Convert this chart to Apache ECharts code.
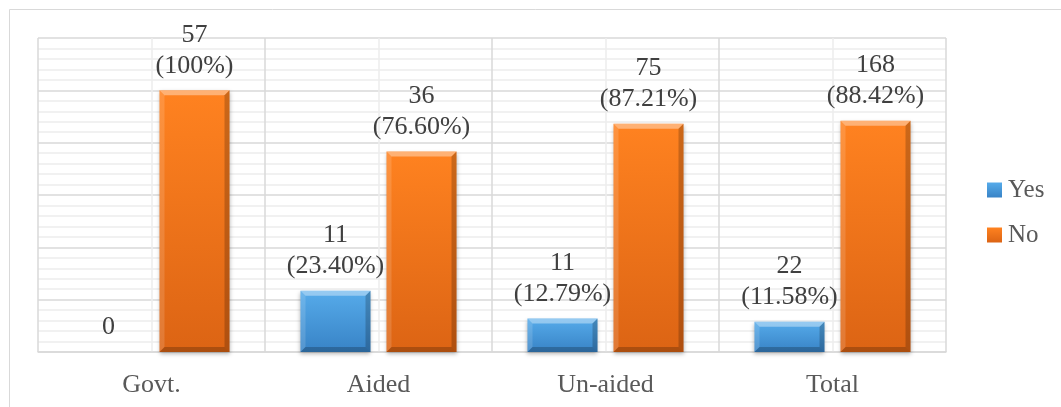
<!DOCTYPE html>
<html>
<head>
<meta charset="utf-8">
<script src="https://cdn.jsdelivr.net/npm/echarts@6/dist/echarts.min.js"></script>
<style>
  html, body { margin: 0; padding: 0; background: #ffffff; }
  #chart { width: 1061px; height: 407px; }
</style>
</head>
<body>
<div id="chart"></div>
<script>
// School categories and the Yes / No responses (counts and shares in %)
const categories = ['Govt.', 'Aided', 'Un-aided', 'Total'];
const yesCounts = [0, 11, 11, 22];
const yesPercent = [0, 23.40, 12.79, 11.58];
const noCounts = [57, 36, 75, 168];
const noPercent = [100, 76.60, 87.21, 88.42];

// Value-axis range and gridline steps
const valueMax = 120;
const majorStep = 20;
const minorStep = 4;

const SERIF = '"Liberation Serif", "Times New Roman", "DejaVu Serif", serif';
const BAR_WIDTH = 70;
const BAR_GAP_PX = 16;

const chart = echarts.init(document.getElementById('chart'), null, { renderer: 'canvas' });

function pctText(v) {
  return v === 100 ? '100' : v.toFixed(2);
}

function labelFor(counts, pcts) {
  return function (p) {
    const i = p.dataIndex;
    if (counts[i] === 0) return String(counts[i]);
    return counts[i] + '\n(' + pctText(pcts[i]) + '%)';
  };
}

function vGrad(top, bottom) {
  return new echarts.graphic.LinearGradient(0, 0, 0, 1, [
    { offset: 0, color: top },
    { offset: 1, color: bottom }
  ]);
}

// Bevel edges drawn on top of each bar, positioned from the category scale
function bevelSeries(name, values, side) {
  return {
    name: name,
    type: 'custom',
    silent: true,
    z: 5,
    xAxisIndex: 0,
    yAxisIndex: 0,
    data: values.map((v, i) => [i, v]),
    renderItem: function (params, api) {
      const idx = api.value(0);
      const val = api.value(1);
      const top = api.coord([idx, val]);
      const base = api.coord([idx, 0]);
      const h = base[1] - top[1];
      if (h <= 0.5) return null;
      const cx = top[0] + side * (BAR_WIDTH + BAR_GAP_PX) / 2;
      const x0 = cx - BAR_WIDTH / 2, x1 = cx + BAR_WIDTH / 2;
      const y0 = top[1], y1 = base[1];
      const b = Math.min(5, h / 2);
      return {
        type: 'group',
        children: [
          { type: 'polygon', shape: { points: [[x0, y0], [x1, y0], [x1 - b, y0 + b], [x0 + b, y0 + b]] },
            style: { fill: 'rgba(255,255,255,0.38)' } },
          { type: 'polygon', shape: { points: [[x0, y0], [x0 + b, y0 + b], [x0 + b, y1 - b], [x0, y1]] },
            style: { fill: 'rgba(255,255,255,0.14)' } },
          { type: 'polygon', shape: { points: [[x1, y0], [x1, y1], [x1 - b, y1 - b], [x1 - b, y0 + b]] },
            style: { fill: 'rgba(0,0,0,0.20)' } },
          { type: 'polygon', shape: { points: [[x0, y1], [x0 + b, y1 - b], [x1 - b, y1 - b], [x1, y1]] },
            style: { fill: 'rgba(0,0,0,0.22)' } }
        ]
      };
    }
  };
}

const barLabel = {
  show: true,
  position: 'top',
  distance: 9,
  fontFamily: SERIF,
  fontSize: 26,
  lineHeight: 31,
  color: '#404040'
};

const minorColor = '#ececec';
const majorColor = '#d9d9d9';
const yLineColors = [majorColor];
for (let k = 1; k < majorStep / minorStep; k++) yLineColors.push(minorColor);

const option = {
  backgroundColor: '#ffffff',
  animation: false,
  graphic: [{
    type: 'rect',
    silent: true,
    z: -10,
    shape: { x: 9.5, y: 9.5, width: 1100, height: 500 },
    style: { fill: 'none', stroke: '#d9d9d9', lineWidth: 1 }
  }],
  grid: { left: 38, right: 115, top: 38, bottom: 55, containLabel: false },
  legend: {
    orient: 'vertical',
    left: 987,
    top: 177.5,
    padding: 0,
    itemWidth: 15,
    itemHeight: 15,
    itemGap: 20,
    icon: 'rect',
    data: ['Yes', 'No'],
    textStyle: { fontFamily: SERIF, fontSize: 25, lineHeight: 25, color: '#595959', padding: [0, 0, 0, 1] }
  },
  xAxis: [{
    type: 'category',
    data: categories,
    axisTick: { show: false },
    axisLine: { show: true, lineStyle: { color: majorColor, width: 1.5 } },
    axisLabel: { fontFamily: SERIF, fontSize: 26, color: '#595959', margin: 20 },
    splitLine: { show: false }
  }, {
    type: 'value',
    position: 'top',
    min: 0,
    max: categories.length * 2,
    interval: 1,
    axisLine: { show: false },
    axisTick: { show: false },
    axisLabel: { show: false },
    splitLine: { show: true, lineStyle: { color: [majorColor, minorColor], width: 1.5 } }
  }],
  yAxis: {
    type: 'value',
    min: 0,
    max: valueMax,
    interval: minorStep,
    axisLine: { show: false },
    axisTick: { show: false },
    axisLabel: { show: false },
    splitLine: { show: true, lineStyle: { color: yLineColors, width: 1.5 } }
  },
  series: [
    {
      name: 'Yes',
      type: 'bar',
      xAxisIndex: 0,
      barWidth: BAR_WIDTH,
      barGap: (BAR_GAP_PX / BAR_WIDTH * 100).toFixed(1) + '%',
      data: yesPercent,
      itemStyle: {
        color: vGrad('#56abea', '#3883c6'),
        shadowColor: 'rgba(0,0,0,0.28)',
        shadowBlur: 4,
        shadowOffsetY: 2
      },
      label: Object.assign({ formatter: labelFor(yesCounts, yesPercent) }, barLabel)
    },
    {
      name: 'No',
      type: 'bar',
      xAxisIndex: 0,
      barWidth: BAR_WIDTH,
      data: noPercent,
      itemStyle: {
        color: vGrad('#ff8220', '#dc6414'),
        shadowColor: 'rgba(0,0,0,0.28)',
        shadowBlur: 4,
        shadowOffsetY: 2
      },
      label: Object.assign({ formatter: labelFor(noCounts, noPercent) }, barLabel)
    },
    bevelSeries('yesEdge', yesPercent, -1),
    bevelSeries('noEdge', noPercent, 1)
  ]
};

chart.setOption(option);
</script>
</body>
</html>
